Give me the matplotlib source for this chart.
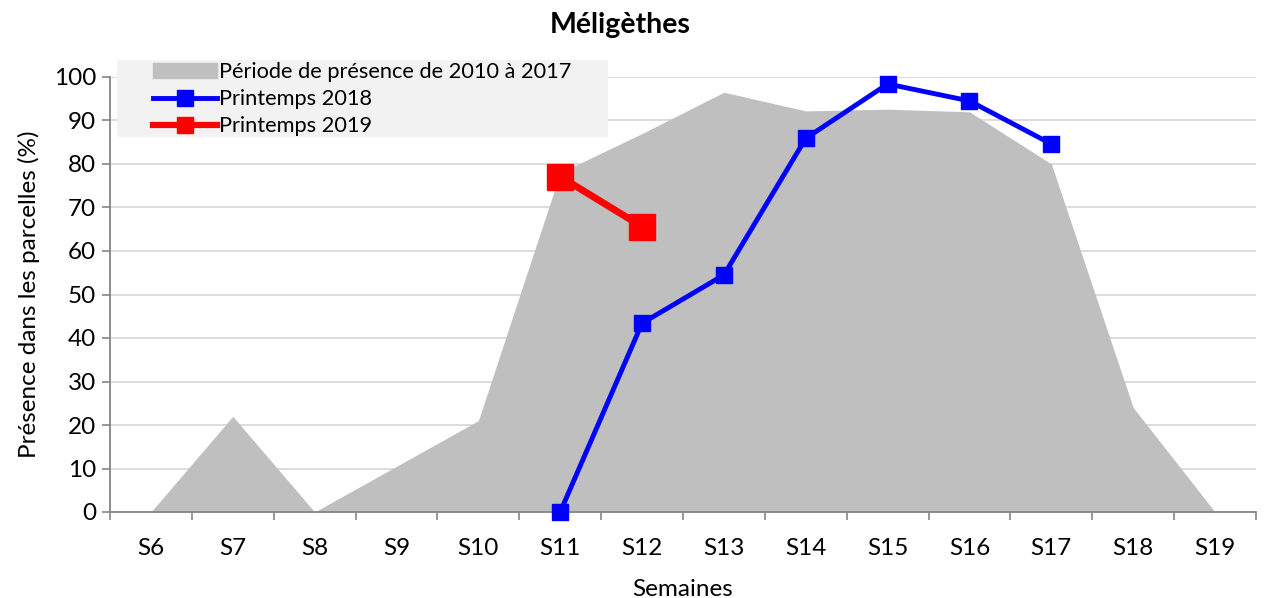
import numpy as np
import matplotlib.pyplot as plt
from matplotlib.patches import Patch, Rectangle

plt.rcParams['font.family'] = ['Lato', 'DejaVu Sans']

# ---------------- données ----------------
semaines = ['S6', 'S7', 'S8', 'S9', 'S10', 'S11', 'S12', 'S13',
            'S14', 'S15', 'S16', 'S17', 'S18', 'S19']
periode_2010_2017 = [0, 22, 0, 10.5, 21, 78, 87, 96.5, 92.2, 92.6, 92, 80, 24, 0]
printemps_2018 = [0, 43.4, 54.5, 85.9, 98.4, 94.5, 84.6]   # S11 -> S17
printemps_2019 = [77.1, 65.6]                             # S11 -> S12

x = np.arange(len(semaines))
x_2018 = x[5:5 + len(printemps_2018)]
x_2019 = x[5:5 + len(printemps_2019)]

W, H = 1266, 598
fig = plt.figure(figsize=(W / 100, H / 100), dpi=100)
ax = fig.add_axes([110 / W, 1 - 512 / H, 1146 / W, 435 / H])

ax.fill_between(x, periode_2010_2017, 0, color='#bfbfbf', linewidth=0, zorder=2)
ax.plot(x_2018, printemps_2018, color='#0000ff', lw=3.5, marker='s', ms=12,
        zorder=4, clip_on=False)
ax.plot(x_2019, printemps_2019, color='#ff0000', lw=5, marker='s', ms=18.5,
        zorder=4, clip_on=False)

ax.set_xlim(-0.5, len(semaines) - 0.5)
ax.set_ylim(0, 100)
ax.set_yticks(range(0, 101, 10))
ax.set_xticks(x)
ax.set_xticklabels(semaines)
ax.set_xticks(np.arange(-0.5, len(semaines)), minor=True)
ax.tick_params(axis='x', which='major', length=0, pad=19, labelsize=17.5)
ax.tick_params(axis='x', which='minor', length=6, width=1.2, color='#868686')
ax.tick_params(axis='y', length=6, width=1.2, color='#868686', labelsize=17.5, pad=4)

ax.grid(axis='y', color='#d9d9d9', lw=1.3, zorder=0)
ax.set_axisbelow(True)
for s in ['top', 'right']:
    ax.spines[s].set_visible(False)
for s in ['left', 'bottom']:
    ax.spines[s].set_color('#868686')
    ax.spines[s].set_linewidth(1.3)

fig.text(620 / W, 1 - 25 / H, 'Méligèthes', fontsize=20.5, fontweight='bold',
         ha='center', va='center')
ax.set_xlabel('Semaines', fontsize=17.5, labelpad=14)
ax.set_ylabel('Présence dans les parcelles (%)', fontsize=17.5, labelpad=10)

# fond gris clair de la légende
fig.patches.append(Rectangle((117 / W, 1 - 137 / H), 491 / W, 77 / H,
                             transform=fig.transFigure, facecolor='#f2f2f2',
                             edgecolor='none', zorder=9))

handles = [Patch(color='#bfbfbf'),
           plt.Line2D([], [], color='#0000ff', lw=3.5, marker='s', ms=11),
           plt.Line2D([], [], color='#ff0000', lw=4.5, marker='s', ms=12)]
labels = ['Période de présence de 2010 à 2017', 'Printemps 2018', 'Printemps 2019']
leg = fig.legend(handles, labels, loc='upper left',
                 bbox_to_anchor=(150 / W, 1 - 59 / H), fontsize=15.7,
                 frameon=False, handlelength=2.9, handletextpad=0.1,
                 labelspacing=0.32, borderpad=0.15, borderaxespad=0)
leg.set_zorder(10)

fig.savefig('out.png', dpi=100)
